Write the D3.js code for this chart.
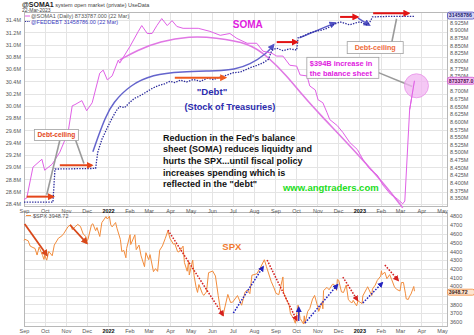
<!DOCTYPE html>
<html><head><meta charset="utf-8">
<script src="https://cdn.jsdelivr.net/npm/d3@7"></script>
<style>body{margin:0;background:#fff}svg{display:block;font-family:"Liberation Sans",Arial,sans-serif}</style>
</head><body><svg id="c" width="474" height="335"></svg>
<script>
// ---------------- DATA ----------------
const somaDates = ["2021-09-01","2021-09-05","2021-09-14","2021-09-27","2021-10-01","2021-10-12","2021-10-23","2021-11-04","2021-11-10","2021-11-14","2021-11-24","2021-12-01","2021-12-09","2021-12-20","2021-12-25","2021-12-31","2022-01-07","2022-01-16","2022-01-18","2022-02-02","2022-02-14","2022-02-19","2022-02-27","2022-03-06","2022-03-13","2022-03-20","2022-03-28","2022-04-04","2022-04-11","2022-04-20","2022-04-30","2022-05-12","2022-05-29","2022-06-13","2022-06-27","2022-07-07","2022-07-22","2022-08-05","2022-08-14","2022-08-27","2022-09-03","2022-09-12","2022-09-22","2022-10-02","2022-10-07","2022-10-17","2022-10-21","2022-10-29","2022-11-02","2022-11-09","2022-11-15","2022-11-19","2022-11-30","2022-12-08","2022-12-18","2022-12-29","2023-01-06","2023-01-16","2023-01-27","2023-02-04","2023-02-15","2023-02-25","2023-03-05","2023-03-08","2023-03-15","2023-03-22"];
const somaValues = [8.345,8.350,8.451,8.477,8.441,8.461,8.500,8.565,8.652,8.656,8.669,8.636,8.662,8.759,8.769,8.737,8.750,8.802,8.792,8.847,8.896,8.915,8.889,8.889,8.915,8.938,8.915,8.931,8.912,8.906,8.906,8.906,8.896,8.883,8.889,8.873,8.857,8.857,8.831,8.824,8.815,8.815,8.785,8.782,8.753,8.750,8.717,8.704,8.672,8.662,8.630,8.607,8.587,8.565,8.532,8.509,8.477,8.445,8.425,8.393,8.363,8.347,8.331,8.340,8.639,8.734];

const debtDates = ["2021-09-01","2021-10-13","2021-10-16","2021-12-14","2021-12-17","2021-12-23","2021-12-30","2022-01-06","2022-01-13","2022-01-18","2022-01-25","2022-02-01","2022-02-08","2022-02-14","2022-02-22","2022-03-01","2022-03-07","2022-03-15","2022-03-24","2022-04-01","2022-04-08","2022-04-16","2022-04-25","2022-05-05","2022-05-15","2022-05-25","2022-06-03","2022-06-13","2022-06-22","2022-07-02","2022-07-12","2022-07-26","2022-08-05","2022-08-14","2022-08-22","2022-08-27","2022-09-03","2022-09-12","2022-09-22","2022-10-02","2022-10-04","2022-10-12","2022-10-21","2022-10-31","2022-11-09","2022-11-16","2022-11-23","2022-12-04","2022-12-10","2022-12-18","2022-12-26","2023-01-02","2023-01-12","2023-01-17","2023-01-20","2023-02-15","2023-03-22"];
const debtValues = [28.43,28.43,28.97,28.98,29.24,29.45,29.62,29.78,29.92,29.99,29.97,30.05,30.12,30.15,30.20,30.25,30.29,30.33,30.36,30.40,30.38,30.42,30.39,30.43,30.40,30.45,30.43,30.47,30.50,30.54,30.55,30.62,30.66,30.70,30.76,30.91,30.94,30.90,30.93,30.91,31.11,31.14,31.19,31.22,31.24,31.27,31.32,31.37,31.35,31.32,31.35,31.37,31.32,31.38,31.45,31.46,31.459];

const spxDates = ["2021-09-01","2021-09-02","2021-09-07","2021-09-10","2021-09-14","2021-09-17","2021-09-20","2021-09-23","2021-09-28","2021-09-30","2021-10-01","2021-10-04","2021-10-07","2021-10-12","2021-10-15","2021-10-21","2021-10-26","2021-10-29","2021-11-04","2021-11-08","2021-11-10","2021-11-15","2021-11-18","2021-11-22","2021-11-26","2021-11-30","2021-12-01","2021-12-03","2021-12-08","2021-12-10","2021-12-14","2021-12-16","2021-12-20","2021-12-23","2021-12-29","2021-12-31","2022-01-03","2022-01-05","2022-01-07","2022-01-12","2022-01-14","2022-01-19","2022-01-21","2022-01-24","2022-01-27","2022-01-28","2022-02-02","2022-02-03","2022-02-09","2022-02-11","2022-02-15","2022-02-18","2022-02-23","2022-02-25","2022-03-01","2022-03-03","2022-03-08","2022-03-11","2022-03-14","2022-03-17","2022-03-21","2022-03-25","2022-03-29","2022-04-01","2022-04-06","2022-04-08","2022-04-12","2022-04-14","2022-04-20","2022-04-22","2022-04-26","2022-04-28","2022-04-29","2022-05-04","2022-05-06","2022-05-09","2022-05-11","2022-05-13","2022-05-18","2022-05-20","2022-05-24","2022-05-27","2022-06-02","2022-06-06","2022-06-10","2022-06-13","2022-06-16","2022-06-17","2022-06-24","2022-06-28","2022-07-01","2022-07-08","2022-07-14","2022-07-19","2022-07-22","2022-07-26","2022-07-29","2022-08-05","2022-08-10","2022-08-16","2022-08-19","2022-08-26","2022-08-30","2022-09-02","2022-09-06","2022-09-12","2022-09-13","2022-09-16","2022-09-21","2022-09-23","2022-09-27","2022-09-30","2022-10-04","2022-10-07","2022-10-12","2022-10-13","2022-10-14","2022-10-18","2022-10-21","2022-10-25","2022-10-28","2022-11-02","2022-11-03","2022-11-08","2022-11-09","2022-11-10","2022-11-15","2022-11-18","2022-11-23","2022-11-25","2022-11-29","2022-11-30","2022-12-02","2022-12-06","2022-12-09","2022-12-13","2022-12-16","2022-12-20","2022-12-22","2022-12-23","2022-12-28","2022-12-30","2023-01-05","2023-01-06","2023-01-12","2023-01-13","2023-01-19","2023-01-20","2023-01-24","2023-01-27","2023-02-01","2023-02-02","2023-02-03","2023-02-07","2023-02-10","2023-02-14","2023-02-17","2023-02-21","2023-02-24","2023-03-01","2023-03-03","2023-03-06","2023-03-09","2023-03-10","2023-03-13","2023-03-15","2023-03-17","2023-03-21","2023-03-22"];
const spxValues = [4524,4537,4520,4459,4443,4433,4358,4449,4353,4308,4357,4300,4399,4350,4471,4549,4575,4605,4680,4702,4646,4683,4705,4682,4595,4567,4513,4538,4701,4712,4634,4669,4568,4725,4793,4766,4797,4700,4677,4726,4662,4533,4398,4410,4327,4432,4589,4477,4587,4419,4471,4349,4226,4385,4306,4363,4170,4204,4173,4412,4461,4543,4632,4546,4481,4488,4397,4393,4459,4272,4175,4288,4132,4301,4123,3991,3935,4024,3923,3901,3941,4158,4177,4121,3901,3750,3667,3675,3912,3821,3825,3899,3790,3937,3962,3921,4130,4145,4210,4305,4228,4058,3986,3924,3909,4110,3932,3873,3790,3693,3647,3586,3791,3640,3577,3670,3583,3720,3753,3859,3901,3760,3720,3828,3749,3956,3992,3965,4027,4026,3958,4080,4072,3941,3934,4019,3852,3821,3822,3845,3783,3840,3808,3895,3983,3999,3899,3973,4017,4071,4120,4180,4136,4164,4090,4136,4079,3997,3970,3951,4046,4048,3919,3862,3855,3892,3917,4002,3948.72];

const leftTicks = [28.4,28.6,28.8,29.0,29.2,29.4,29.6,29.8,30.0,30.2,30.4,30.6,30.8,31.0,31.2,31.4];
const rightTicks = [8.350,8.375,8.400,8.425,8.450,8.475,8.500,8.525,8.550,8.575,8.600,8.625,8.650,8.675,8.700,8.725,8.750,8.775,8.800,8.825,8.850,8.875,8.900,8.925];
const spxTicks = [3600,3700,3800,3900,4000,4100,4200,4300,4400,4500,4600,4700,4800];
const monthTicks = ["2021-09-01","2021-10-01","2021-11-01","2021-12-01","2022-01-01","2022-02-01","2022-03-01","2022-04-01","2022-05-01","2022-06-01","2022-07-01","2022-08-01","2022-09-01","2022-10-01","2022-11-01","2022-12-01","2023-01-01","2023-02-01","2023-03-01","2023-04-01","2023-05-01"];
const monthLabels = ["Sep","Oct","Nov","Dec","2022","Feb","Mar","Apr","May","Jun","Jul","Aug","Sep","Oct","Nov","Dec","2023","Feb","Mar","Apr","May"];

// annotation anchors (data coordinates)
const redArrowsTop = [
  [["2021-09-05",28.52],["2021-10-13",28.52],"#e4461a"],
  [["2021-10-23",29.03],["2021-12-08",29.03],"#e4461a"],
  [["2022-04-08",30.46],["2022-06-20",30.46],"#ee5a1e"],
  [["2022-09-03",31.04],["2022-10-02",31.04],"#e21414"],
  [["2022-12-04",31.45],["2022-12-29",31.45],"#e21414"],
  [["2023-01-21",31.51],["2023-03-13",31.51],"#e21414"]
];
const debtArc = [["2021-12-10",29.25],["2021-12-17",29.48],["2021-12-28",29.81],["2022-01-08",30.05],["2022-02-02",30.34],["2022-03-07",30.51],["2022-04-16",30.56],["2022-06-13",30.57],["2022-07-02",30.59],["2022-07-26",30.67],["2022-08-20",30.86],["2022-08-29",30.99]];
const blueArrowsTop = [[["2022-10-06",31.11],["2022-11-26",31.35]],[["2022-12-30",31.43],["2023-01-15",31.32]]];
const somaArc = [["2022-01-18",8.802],["2022-02-12",8.834],["2022-03-17",8.863],["2022-04-30",8.880],["2022-06-05",8.876],["2022-07-26",8.857],["2022-08-20",8.815],["2022-09-18",8.750],["2022-10-11",8.685],["2022-11-05",8.623],["2022-12-18",8.522],["2023-02-04",8.402],["2023-03-05",8.318]];
const spxSolidArrows = [[["2021-09-02",4709],["2021-10-04",4358]],[["2021-11-07",4698],["2021-12-01",4494]]];
const spxRedDotted = [[["2022-03-29",4641],["2022-06-17",3679]],[["2022-08-20",4302],["2022-10-02",3622]],[["2022-12-08",4109],["2022-12-29",3849]],[["2023-02-07",4245],["2023-02-26",4075]]];
const spxBlueDotted = [[["2022-07-02",3701],["2022-08-14",4222]],[["2022-10-14",3588],["2022-11-30",4019]],[["2023-01-06",3815],["2023-02-03",4041]]];
const spxBlueSolid = [[["2022-10-05",3612],["2022-10-05",3760]]];
const noteLines = ["Reduction in the Fed's balance","sheet (SOMA) reduces liquidty and","hurts the SPX...until fiscal policy","increases spending which is","reflected in the \"debt\""];

// ---------------- SCALES ----------------
const parse = d3.timeParse("%Y-%m-%d");
const X0 = 24, X1 = 447, T0 = 12, T1 = 206, B0 = 212, B1 = 326;
const x = d3.scaleTime().domain([parse("2021-09-01"), parse("2023-05-01")]).range([24, 442]);
const yL = d3.scaleLinear().domain([28.4, 31.4]).range([204, 20]);
const yR = d3.scaleLinear().domain([8.35, 8.925]).range([198, 22.5]);
const yS = d3.scaleLinear().domain([3600, 4800]).range([322, 216]);
const PL = p => [x(parse(p[0])), yL(p[1])];
const PR = p => [x(parse(p[0])), yR(p[1])];
const PS = p => [x(parse(p[0])), yS(p[1])];

const soma = somaDates.map((d, i) => ({date: parse(d), v: somaValues[i]}));
const debt = debtDates.map((d, i) => ({date: parse(d), v: debtValues[i]}));
const spx = spxDates.map((d, i) => ({date: parse(d), v: spxValues[i]}));
const lastS = soma[soma.length - 1], lastD = debt[debt.length - 1], lastP = spx[spx.length - 1];

const svg = d3.select("#c");
const defs = svg.append("defs");
function marker(id, color, size) {
  defs.append("marker").attr("id", id).attr("viewBox", "0 0 10 10").attr("refX", 7).attr("refY", 5)
    .attr("markerWidth", size).attr("markerHeight", size).attr("markerUnits", "userSpaceOnUse").attr("orient", "auto")
    .append("path").attr("d", "M0,0 L10,5 L0,10 z").attr("fill", color);
}
marker("mOr", "#e4461a", 7); marker("mOr2", "#ee5a1e", 7); marker("mRed", "#e21414", 7);
marker("mBlue", "#5252c4", 7); marker("mRedS", "#d42020", 6); marker("mBlueS", "#2424c0", 6); marker("mSpxO", "#d8481a", 7);

// ---------------- GRID ----------------
const grid = svg.append("g").attr("stroke", "#e4e4e4").attr("stroke-width", 1).attr("shape-rendering", "crispEdges");
monthTicks.forEach(m => {
  const xx = Math.round(x(parse(m)));
  if (xx > X0 && xx < X1) {
    grid.append("line").attr("x1", xx).attr("x2", xx).attr("y1", T0).attr("y2", T1);
    grid.append("line").attr("x1", xx).attr("x2", xx).attr("y1", B0).attr("y2", B1);
  }
});
leftTicks.forEach(t => grid.append("line").attr("x1", X0).attr("x2", X1).attr("y1", Math.round(yL(t))).attr("y2", Math.round(yL(t))));
spxTicks.forEach(t => grid.append("line").attr("x1", X0).attr("x2", X1).attr("y1", Math.round(yS(t))).attr("y2", Math.round(yS(t))));

const frame = svg.append("g").attr("fill", "none").attr("stroke", "#b8b8b8").attr("shape-rendering", "crispEdges");
frame.append("rect").attr("x", X0).attr("y", T0).attr("width", X1 - X0).attr("height", T1 - T0);
frame.append("rect").attr("x", X0).attr("y", B0).attr("width", X1 - X0).attr("height", B1 - B0);

// ---------------- AXES ----------------
function styleAxis(g) {
  g.select(".domain").remove();
  g.selectAll("text").attr("fill", "#555").style("font-size", "5.5px").style("font-family", "Liberation Sans, Arial, sans-serif");
}
const rightShown = rightTicks.filter(t => Math.abs(yR(t) - yR(lastS.v)) > 4.5);
const spxShown = spxTicks.filter(t => Math.abs(yS(t) - yS(lastP.v)) > 4.5);
svg.append("g").attr("transform", `translate(${X0},0)`)
  .call(d3.axisLeft(yL).tickValues(leftTicks).tickSize(0).tickPadding(3).tickFormat(d => d.toFixed(1) + "M")).call(styleAxis);
svg.append("g").attr("transform", `translate(${X1},0)`)
  .call(d3.axisRight(yR).tickValues(rightShown).tickSize(0).tickPadding(3).tickFormat(d => d.toFixed(3) + "M")).call(styleAxis);
const spxAxis = svg.append("g").attr("transform", `translate(${X1},0)`)
  .call(d3.axisRight(yS).tickValues(spxShown).tickSize(0).tickPadding(3).tickFormat(d3.format("d"))).call(styleAxis);
spxAxis.selectAll(".tick").filter(d => d === 4000).select("text").attr("dy", "0.1em");
[T1, B1].forEach(yy => {
  const g = svg.append("g").attr("transform", `translate(0,${yy})`)
    .call(d3.axisBottom(x).tickValues(monthTicks.map(parse)).tickSize(0).tickPadding(3).tickFormat((d, i) => monthLabels[i])).call(styleAxis);
  g.selectAll("text").each(function(d, i) {
    if (/^20/.test(monthLabels[i])) d3.select(this).attr("fill", "#111").style("font-weight", "bold");
  });
});

// ---------------- SERIES ----------------
svg.append("path").attr("d", d3.line().curve(d3.curveBasis)(somaArc.map(PR)))
  .attr("fill", "none").attr("stroke", "#e078e4").attr("stroke-width", 1.6);
svg.append("path").attr("d", d3.line().curve(d3.curveBasis)(debtArc.map(PL)))
  .attr("fill", "none").attr("stroke", "#6464cc").attr("stroke-width", 1.5).attr("marker-end", "url(#mBlue)");
blueArrowsTop.forEach(a => svg.append("path").attr("d", d3.line()(a.map(PL)))
  .attr("fill", "none").attr("stroke", "#5a5ac8").attr("stroke-width", 1.4).attr("marker-end", "url(#mBlue)"));

svg.append("path").datum(soma).attr("d", d3.line().x(d => x(d.date)).y(d => yR(d.v)))
  .attr("fill", "none").attr("stroke", "#e060e6").attr("stroke-width", 1);
svg.append("path").datum(debt).attr("d", d3.line().x(d => x(d.date)).y(d => yL(d.v)))
  .attr("fill", "none").attr("stroke", "#2a2a9c").attr("stroke-width", 1.3).attr("stroke-dasharray", "1.4,1.3");

redArrowsTop.forEach(a => {
  const mk = a[2] === "#e21414" ? "mRed" : (a[2] === "#ee5a1e" ? "mOr2" : "mOr");
  svg.append("path").attr("d", d3.line()([PL(a[0]), PL(a[1])]))
    .attr("fill", "none").attr("stroke", a[2]).attr("stroke-width", 2).attr("marker-end", `url(#${mk})`);
});

svg.append("path").datum(spx).attr("d", d3.line().x(d => x(d.date)).y(d => yS(d.v)))
  .attr("fill", "none").attr("stroke", "#f28c3c").attr("stroke-width", 1);

spxSolidArrows.forEach(a => svg.append("path").attr("d", d3.line()(a.map(PS)))
  .attr("fill", "none").attr("stroke", "#d8481a").attr("stroke-width", 1.8).attr("marker-end", "url(#mSpxO)"));
spxRedDotted.forEach(a => svg.append("path").attr("d", d3.line()(a.map(PS)))
  .attr("fill", "none").attr("stroke", "#d42020").attr("stroke-width", 1.5).attr("stroke-dasharray", "1.6,1.4").attr("marker-end", "url(#mRedS)"));
spxBlueDotted.forEach(a => svg.append("path").attr("d", d3.line()(a.map(PS)))
  .attr("fill", "none").attr("stroke", "#2424c0").attr("stroke-width", 1.5).attr("stroke-dasharray", "1.6,1.4").attr("marker-end", "url(#mBlueS)"));
spxBlueSolid.forEach(a => svg.append("path").attr("d", d3.line()(a.map(PS)))
  .attr("fill", "none").attr("stroke", "#2424c0").attr("stroke-width", 1.3).attr("marker-end", "url(#mBlueS)"));

// ---------------- ANNOTATIONS ----------------
const txt = (p, s, o) => {
  const t = svg.append("text").attr("x", p[0]).attr("y", p[1]).text(s);
  Object.entries(o).forEach(([k, v]) => t.style(k, v));
  return t;
};
const leaderStyle = s => s.attr("stroke", "#9a9a9a").attr("stroke-width", 1.6).attr("fill", "none");
leaderStyle(svg.append("path").attr("d", d3.line()([PL(["2021-10-23",29.44]), PL(["2021-10-04",28.55])])));
leaderStyle(svg.append("path").attr("d", d3.line()([PL(["2021-11-15",29.44]), PL(["2021-11-27",29.06])])));
leaderStyle(svg.append("path").attr("d", d3.line()([PL(["2023-02-17",31.03]), PL(["2023-02-24",31.42])])));
leaderStyle(svg.append("path").attr("d", d3.line()([PL(["2023-01-27",30.55]), PR(["2023-03-19",8.715])])));

function box(cx, cy, w, h) {
  svg.append("rect").attr("x", cx - w / 2).attr("y", cy - h / 2).attr("width", w).attr("height", h)
    .attr("fill", "#fff").attr("stroke", "#a0a0a0").attr("stroke-width", 0.8);
}
let p = PL(["2021-10-18",29.525]); box(p[0], p[1], 44, 11);
txt([p[0], p[1] + 2.3], "Debt-ceiling", {"font-size": "6.6px", "font-weight": "bold", "fill": "#e4461a", "text-anchor": "middle"});
p = PL(["2023-01-24",30.95]); box(p[0], p[1], 56, 12);
txt([p[0], p[1] + 2.4], "Debt-ceiling", {"font-size": "7.2px", "font-weight": "bold", "fill": "#ee6a3a", "text-anchor": "middle"});
p = PL(["2022-12-08",30.62]); box(p[0], p[1], 72, 21);
txt([p[0] - 33, p[1] - 2], "$394B increase in", {"font-size": "7.4px", "font-weight": "bold", "fill": "#e020e0"});
txt([p[0] - 33, p[1] + 8], "the balance sheet", {"font-size": "7.4px", "font-weight": "bold", "fill": "#e020e0"});

svg.append("circle").attr("cx", x(lastS.date) + 2).attr("cy", yR(lastS.v) + 5).attr("r", 12)
  .attr("fill", "#f2b6f2").attr("fill-opacity", 0.75).attr("stroke", "#e890e8").attr("stroke-width", 0.8);
svg.append("path").datum(soma.slice(-2)).attr("d", d3.line().x(d => x(d.date)).y(d => yR(d.v)))
  .attr("fill", "none").attr("stroke", "#e060e6").attr("stroke-width", 1);

txt(PL(["2022-07-23",31.27]), "SOMA", {"font-size": "10px", "font-weight": "bold", "fill": "#e020e0", "text-anchor": "middle"});
txt(PL(["2022-06-01",30.17]), "\"Debt\"", {"font-size": "9.6px", "font-weight": "bold", "fill": "#2c2cae", "text-anchor": "middle"});
txt(PL(["2022-06-27",29.94]), "(Stock of Treasuries)", {"font-size": "9.2px", "font-weight": "bold", "fill": "#2c2cae", "text-anchor": "middle"});
p = PL(["2022-03-22",29.43]);
noteLines.forEach((s, i) => txt([p[0], p[1] + i * 11.6], s, {"font-size": "9px", "font-weight": "bold", "fill": "#111"}));
txt(PL(["2022-09-12",28.61]), "www.angtraders.com", {"font-size": "9.5px", "font-weight": "bold", "fill": "#22dd22"});
txt(PS(["2022-06-16",4420]), "SPX", {"font-size": "9.5px", "font-weight": "bold", "fill": "#f07a30"});

// header & legends
const hdr = svg.append("text").attr("x", 22).attr("y", 6.5);
hdr.append("tspan").text("@SOMA1").style("font-size", "7px").style("font-weight", "bold").attr("fill", "#222");
hdr.append("tspan").text(" system open market (private) UseData").style("font-size", "5.5px").attr("fill", "#444");
txt([22, 12], "22-Mar-2023", {"font-size": "5px", "fill": "#444"});
svg.append("line").attr("x1", 25).attr("x2", 30).attr("y1", 16).attr("y2", 16).attr("stroke", "#e060e6").attr("stroke-width", 1);
txt([31, 18], "@SOMA1 (Daily) 8733787.000 (22 Mar)", {"font-size": "5.5px", "fill": "#555"});
svg.append("line").attr("x1", 25).attr("x2", 30).attr("y1", 21.5).attr("y2", 21.5).attr("stroke", "#2a2a9c").attr("stroke-width", 1.2).attr("stroke-dasharray", "1.2,1");
txt([31, 23.5], "@FEDDEBT 31458786.00 (22 Mar)", {"font-size": "5.5px", "fill": "#3c3cc0"});
svg.append("line").attr("x1", 26).attr("x2", 31).attr("y1", 215.5).attr("y2", 215.5).attr("stroke", "#f28c3c").attr("stroke-width", 1);
txt([33, 217.5], "$SPX 3948.72", {"font-size": "5.5px", "fill": "#555"});

function valBox(yy, s, fill, stroke, color, h) {
  svg.append("rect").attr("x", X1 + 0.5).attr("y", yy - h / 2).attr("width", 27).attr("height", h).attr("rx", 2)
    .attr("fill", fill).attr("stroke", stroke).attr("stroke-width", 0.8);
  txt([X1 + 1.8, yy + 1.9], s, {"font-size": "5.2px", "font-weight": "bold", "fill": color});
}
valBox(yL(lastD.v) - 0.8, "31458786", "#d4d4f4", "#5050c0", "#1c1c70", 7);
valBox(yR(lastS.v), "8733787.0", "#f4c0f4", "#d050d0", "#501050", 7);
valBox(yS(lastP.v) + 1, "3948.72", "#fde4d0", "#f08a3c", "#402010", 6);
</script></body></html>
